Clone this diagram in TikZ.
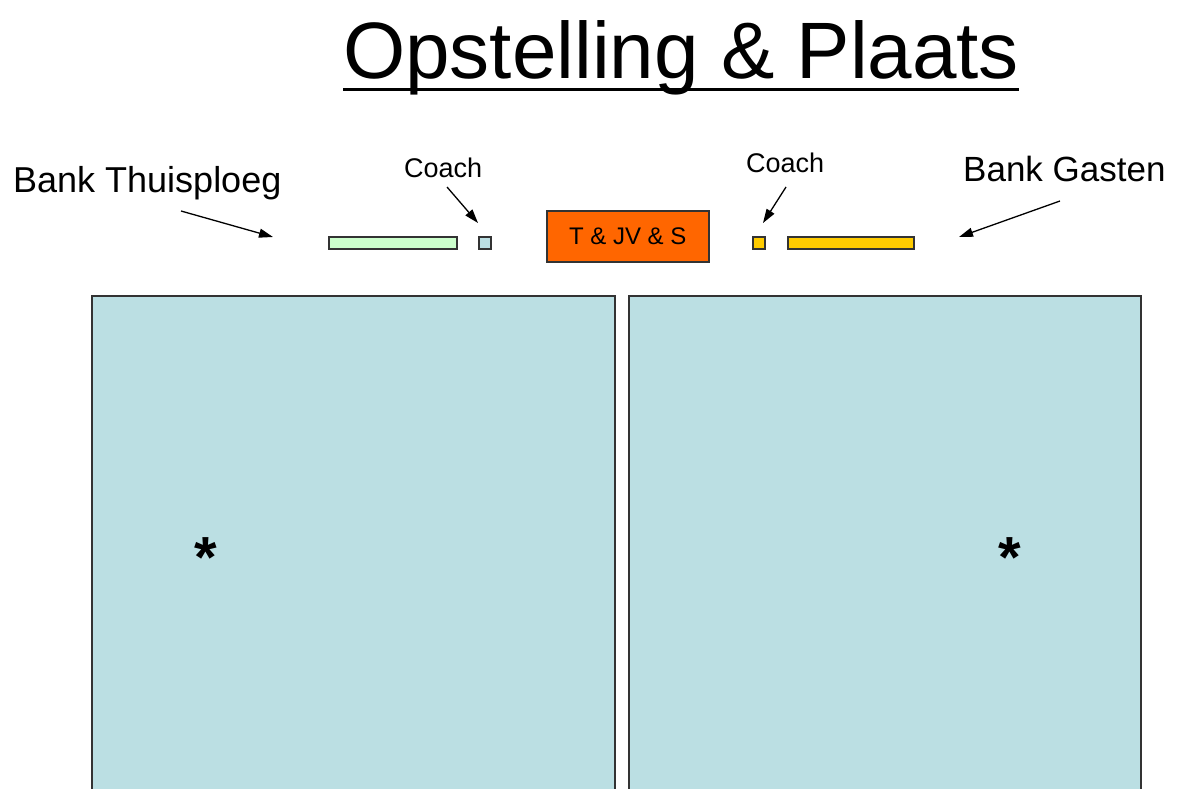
\documentclass[tikz,border=0pt]{standalone}
\usepackage{fontspec}
\setmainfont{Liberation Sans}
\usetikzlibrary{arrows.meta}
\definecolor{court}{HTML}{BBDFE3}
\definecolor{homebench}{HTML}{CCFFCC}
\definecolor{tafel}{HTML}{FF6600}
\definecolor{guestbench}{HTML}{FFCC00}
\definecolor{edge}{HTML}{333333}
\tikzset{
  lbl/.style={inner sep=0pt, anchor=base west},
  boxy/.style={draw=edge, line width=1.5pt, inner sep=0pt, anchor=north west},
  ptr/.style={line width=1.3pt, -{Triangle[length=14pt,width=9pt]}},
  starmark/.style={inner sep=0pt, anchor=base},
}
\begin{document}
\begin{tikzpicture}[x=1pt,y=-1pt]
\clip (0,0) rectangle (1178,789);
\fill[white] (0,0) rectangle (1178,789);
% title
\node[lbl] (title) at (343,79) {\fontsize{80}{96}\selectfont Opstelling \& Plaats};
\draw[line width=3pt] ([yshift=-11pt]title.base west) -- ([yshift=-11pt]title.base east);
% labels
\node[lbl] (bth) at (13,193) {\fontsize{36}{42}\selectfont Bank Thuisploeg};
\node[lbl] (bg) at (963,182) {\fontsize{35}{42}\selectfont Bank Gasten};
\node[lbl] (c1) at (404,177) {\fontsize{27}{32}\selectfont Coach};
\node[lbl] (c2) at (746,172) {\fontsize{27}{32}\selectfont Coach};
% benches
\node[boxy, fill=homebench, minimum width=128pt, minimum height=12pt] (hb) at (328,236) {};
\node[boxy, fill=court, minimum width=12pt, minimum height=12pt] (hc) at (478,236) {};
\node[boxy, fill=tafel, minimum width=162pt, minimum height=51pt] (t) at (546,210) {};
\node at (t.center) {\fontsize{24}{28}\selectfont T \& JV \& S};
\node[boxy, fill=guestbench, minimum width=12pt, minimum height=12pt] (gc) at (752,236) {};
\node[boxy, fill=guestbench, minimum width=126pt, minimum height=12pt] (gb) at (787,236) {};
% courts
\node[boxy, fill=court, minimum width=523pt, minimum height=520pt] (lc) at (91,295) {};
\node[boxy, fill=court, minimum width=512pt, minimum height=520pt] (rc) at (628,295) {};
\node[starmark] (s1) at (206,577) {\fontsize{58}{58}\selectfont\bfseries *};
\node[starmark] (s2) at (1010,577) {\fontsize{58}{58}\selectfont\bfseries *};
% arrows
\coordinate (a1s) at (181,211); \coordinate (a1e) at (273,237);
\coordinate (a2s) at (447,187); \coordinate (a2e) at (478,223);
\coordinate (a3s) at (786,187); \coordinate (a3e) at (763,223);
\coordinate (a4s) at (1060,201); \coordinate (a4e) at (959,237);
\draw[ptr] (a1s) -- (a1e);
\draw[ptr] (a2s) -- (a2e);
\draw[ptr] (a3s) -- (a3e);
\draw[ptr] (a4s) -- (a4e);
\end{tikzpicture}
\end{document}
